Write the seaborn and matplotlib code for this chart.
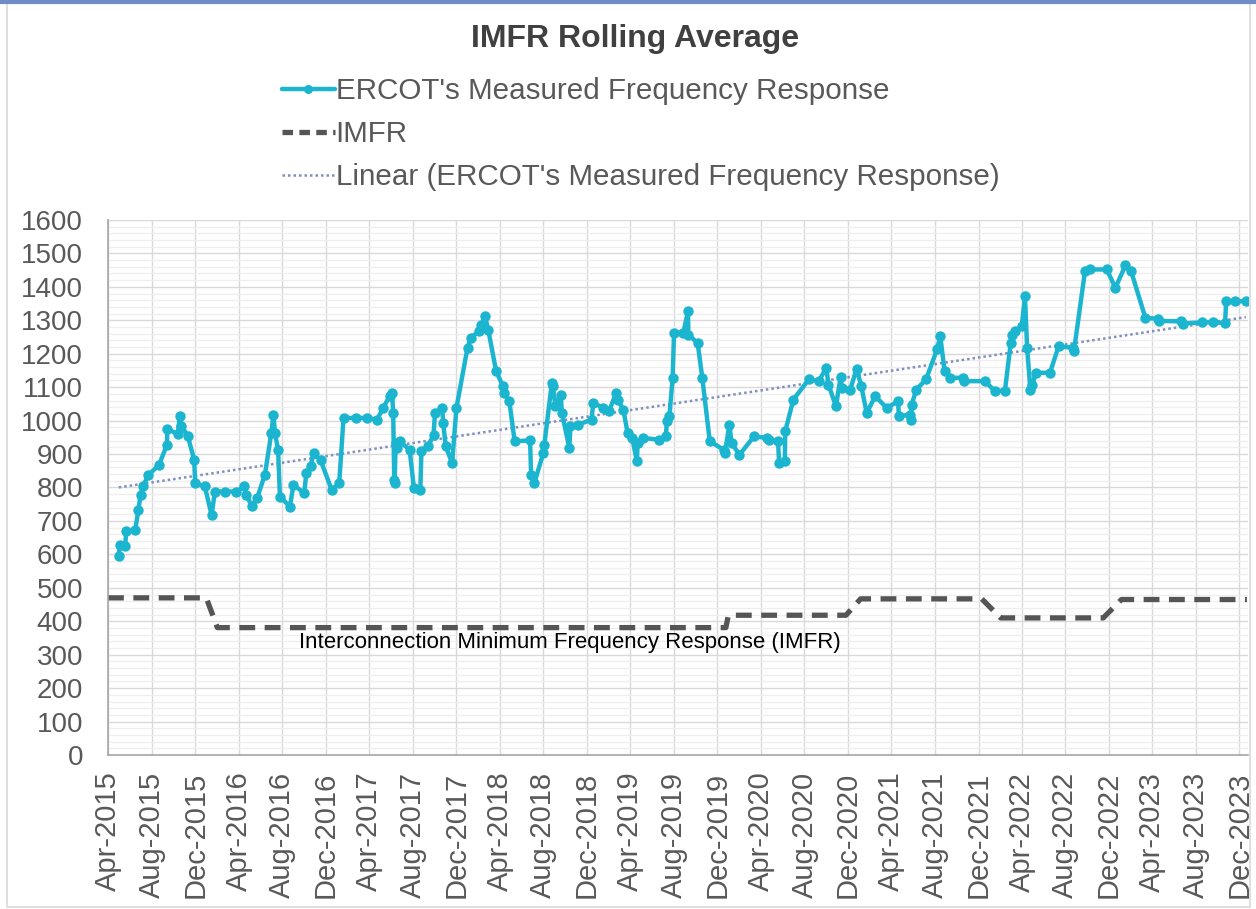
import matplotlib
matplotlib.use("Agg")
import matplotlib.pyplot as plt
import matplotlib.dates as mdates
from matplotlib.lines import Line2D
from matplotlib.patches import Rectangle
from matplotlib.ticker import MultipleLocator
import numpy as np
import pandas as pd
import seaborn as sns

ercot_dates = [
    "2015-05-01", "2015-05-04", "2015-05-19", "2015-05-22", "2015-06-16", "2015-06-25",
    "2015-07-01", "2015-07-08", "2015-07-22", "2015-08-22", "2015-09-13", "2015-09-14",
    "2015-10-13", "2015-10-19", "2015-10-23", "2015-11-10", "2015-11-28", "2015-12-01",
    "2015-12-28", "2016-01-16", "2016-01-25", "2016-02-23", "2016-03-25", "2016-04-16",
    "2016-04-22", "2016-05-07", "2016-05-22", "2016-06-13", "2016-07-01", "2016-07-07",
    "2016-07-11", "2016-07-20", "2016-07-25", "2016-08-22", "2016-09-01", "2016-10-01",
    "2016-10-07", "2016-10-19", "2016-10-28", "2016-11-16", "2016-12-17", "2017-01-07",
    "2017-01-19", "2017-02-22", "2017-03-25", "2017-04-23", "2017-05-10", "2017-05-28",
    "2017-06-04", "2017-06-07", "2017-06-10", "2017-06-11", "2017-06-14", "2017-06-19",
    "2017-06-25", "2017-07-23", "2017-08-04", "2017-08-22", "2017-08-25", "2017-09-13",
    "2017-09-28", "2017-10-02", "2017-10-22", "2017-10-25", "2017-11-01", "2017-11-19",
    "2017-12-01", "2018-01-01", "2018-01-10", "2018-02-01", "2018-02-09", "2018-02-19",
    "2018-02-28", "2018-03-22", "2018-04-10", "2018-04-14", "2018-04-28", "2018-05-13",
    "2018-06-25", "2018-06-28", "2018-07-07", "2018-08-01", "2018-08-04", "2018-08-25",
    "2018-08-28", "2018-09-04", "2018-09-19", "2018-09-22", "2018-10-13", "2018-10-16",
    "2018-11-07", "2018-12-14", "2018-12-19", "2019-01-16", "2019-02-01", "2019-02-21",
    "2019-02-25", "2019-03-13", "2019-03-25", "2019-04-07", "2019-04-20", "2019-04-22",
    "2019-05-07", "2019-06-22", "2019-07-10", "2019-07-13", "2019-07-20", "2019-07-29",
    "2019-08-02", "2019-08-28", "2019-09-10", "2019-09-11", "2019-10-07", "2019-10-20",
    "2019-11-10", "2019-12-19", "2019-12-22", "2020-01-04", "2020-01-10", "2020-02-01",
    "2020-03-13", "2020-04-19", "2020-04-25", "2020-05-19", "2020-05-22", "2020-06-07",
    "2020-06-08", "2020-07-01", "2020-08-13", "2020-09-10", "2020-10-01", "2020-10-07",
    "2020-10-28", "2020-11-10", "2020-11-13", "2020-12-07", "2020-12-25", "2021-01-07",
    "2021-01-22", "2021-02-15", "2021-03-19", "2021-04-20", "2021-04-22", "2021-05-22",
    "2021-05-25", "2021-05-28", "2021-06-10", "2021-07-07", "2021-08-07", "2021-08-16",
    "2021-08-28", "2021-09-13", "2021-10-19", "2021-10-22", "2021-12-19", "2022-01-16",
    "2022-02-13", "2022-03-01", "2022-03-04", "2022-03-13", "2022-04-01", "2022-04-10",
    "2022-04-16", "2022-04-25", "2022-05-01", "2022-05-10", "2022-06-19", "2022-07-13",
    "2022-08-22", "2022-08-25", "2022-09-25", "2022-10-10", "2022-11-25", "2022-12-19",
    "2023-01-16", "2023-02-01", "2023-03-13", "2023-04-16", "2023-04-19", "2023-06-22",
    "2023-06-25", "2023-08-19", "2023-09-19", "2023-10-22", "2023-10-25", "2023-11-19",
    "2023-12-19",
]
ercot_values = [
    594, 629, 626, 669, 672, 733,
    778, 803, 836, 868, 928, 975,
    960, 1013, 985, 955, 883, 813,
    803, 717, 788, 788, 788, 803,
    778, 745, 768, 838, 963, 1018,
    963, 913, 773, 743, 808, 783,
    843, 865, 903, 881, 793, 813,
    1008, 1008, 1008, 1003, 1038, 1073,
    1083, 1023, 823, 813, 933, 918,
    938, 913, 798, 793, 908, 923,
    958, 1023, 1038, 993, 923, 873,
    1038, 1218, 1247, 1267, 1287, 1312,
    1272, 1148, 1103, 1083, 1058, 938,
    941, 838, 813, 903, 928, 1113,
    1103, 1043, 1078, 1023, 918, 983,
    988, 1003, 1053, 1038, 1028, 1083,
    1063, 1033, 963, 948, 878, 933,
    948, 943, 953, 998, 1013, 1128,
    1263, 1263, 1327, 1257, 1232, 1128,
    938, 913, 903, 988, 933, 898,
    953, 948, 943, 938, 873, 878,
    968, 1063, 1123, 1118, 1158, 1108,
    1043, 1130, 1098, 1093, 1155, 1103,
    1023, 1073, 1038, 1058, 1013, 1018,
    1003, 1048, 1093, 1123, 1213, 1253,
    1148, 1128, 1128, 1118, 1118, 1088,
    1090, 1231, 1257, 1267, 1282, 1372,
    1218, 1093, 1108, 1143, 1143, 1222,
    1218, 1208, 1447, 1452, 1452, 1397,
    1464, 1447, 1307, 1305, 1298, 1297,
    1290, 1294, 1294, 1292, 1357, 1357,
    1357,
]

# Interconnection Minimum Frequency Response steps
imfr_dates = ["2015-04-01", "2016-01-01", "2016-02-01", "2019-12-25", "2020-01-01", "2020-11-25",
              "2021-01-05", "2021-12-10", "2022-02-01", "2022-11-15", "2023-01-05", "2023-12-22"]
imfr_values = [470, 470, 381, 381, 418, 418, 467, 467, 410, 410, 465, 465]

title = "IMFR Rolling Average"
label_ercot = "ERCOT's Measured Frequency Response"
label_imfr = "IMFR"
label_trend = "Linear (ERCOT's Measured Frequency Response)"
note = "Interconnection Minimum Frequency Response (IMFR)"

TEAL = "#1CB5D0"
DARK = "#555555"
TREND = "#7F8FBF"
GRID = "#D9D9D9"
TXT = "#595959"

sns.set_style("white")
plt.rcParams["font.family"] = ["Liberation Sans", "DejaVu Sans"]

df = pd.DataFrame({"date": pd.to_datetime(ercot_dates), "value": ercot_values})
df["num"] = mdates.date2num(df["date"])
imfr = pd.DataFrame({"date": pd.to_datetime(imfr_dates), "value": imfr_values})

fig = plt.figure(figsize=(12.56, 9.09), dpi=100)
ax = fig.add_axes([0.086, 0.1694, 0.9076, 0.5886])

# gridlines
ax.yaxis.set_major_locator(MultipleLocator(100))
ax.yaxis.set_minor_locator(MultipleLocator(20))
ax.xaxis.set_major_locator(mdates.MonthLocator(bymonth=[4, 8, 12]))
ax.xaxis.set_minor_locator(mdates.MonthLocator(bymonth=[2, 6, 10]))
ax.xaxis.set_major_formatter(mdates.DateFormatter("%b-%Y"))
ax.grid(which="major", axis="both", color=GRID, lw=1.0)
ax.grid(which="minor", axis="y", color="#EEEEEE", lw=0.9)
ax.set_axisbelow(True)

sns.lineplot(data=imfr, x="date", y="value", ax=ax, color=DARK, lw=3.8,
             linestyle=(0, (3, 1.8)), estimator=None, sort=False)
sns.regplot(data=df, x="num", y="value", ax=ax, scatter=False, ci=None, truncate=True,
            line_kws=dict(color=TREND, lw=1.8, linestyle=(0, (1, 1.2))))
sns.lineplot(data=df, x="date", y="value", ax=ax, color=TEAL, lw=3.2, marker="o",
             markersize=7.5, markeredgewidth=0, estimator=None, sort=False)

ax.text(pd.Timestamp("2016-09-17"), 336, note, fontsize=16, color="black",
        ha="left", va="center")

ax.set_ylim(0, 1600)
ax.set_xlim(pd.Timestamp("2015-04-01"), pd.Timestamp("2023-12-25"))
ax.set_xlabel("")
ax.set_ylabel("")

for s in ["top", "right"]:
    ax.spines[s].set_visible(False)
for s in ["left", "bottom"]:
    ax.spines[s].set_color("#A6A6A6")
    ax.spines[s].set_linewidth(1.2)

ax.tick_params(axis="y", which="both", direction="out", length=6, color="#A6A6A6",
               labelsize=20, labelcolor=TXT, pad=12)
ax.tick_params(axis="y", which="minor", labelleft=False)
ax.tick_params(axis="x", which="major", direction="out", length=7, color="#A6A6A6",
               labelsize=21, labelcolor=TXT, labelrotation=90, pad=5)
ax.tick_params(axis="x", which="minor", direction="out", length=5, color="#A6A6A6")

fig.text(0.506, 0.957, title, fontsize=23, fontweight="bold", color="#404040",
         ha="center", va="center")

handles = [
    Line2D([], [], color=TEAL, lw=3.2, marker="o", markersize=6.5, markeredgewidth=0),
    Line2D([], [], color=DARK, lw=3.8, linestyle=(0, (2, 1.2))),
    Line2D([], [], color=TREND, lw=1.8, linestyle=(0, (1, 1.2))),
]
fig.legend(handles, [label_ercot, label_imfr, label_trend], loc="upper left",
           bbox_to_anchor=(0.215, 0.928), frameon=False, fontsize=21.3, handlelength=1.8,
           handletextpad=0.02, labelspacing=0.5, labelcolor=TXT, borderaxespad=0)

# frame around the chart
fig.add_artist(Rectangle((0.0056, 0.002), 0.99, 0.996, transform=fig.transFigure,
                         fill=False, ec="#D9D9D9", lw=1.2))
fig.add_artist(Line2D([0, 1], [0.998, 0.998], transform=fig.transFigure,
                      color="#6F8CC6", lw=3))

fig.savefig("out.png", dpi=100, facecolor="white")
